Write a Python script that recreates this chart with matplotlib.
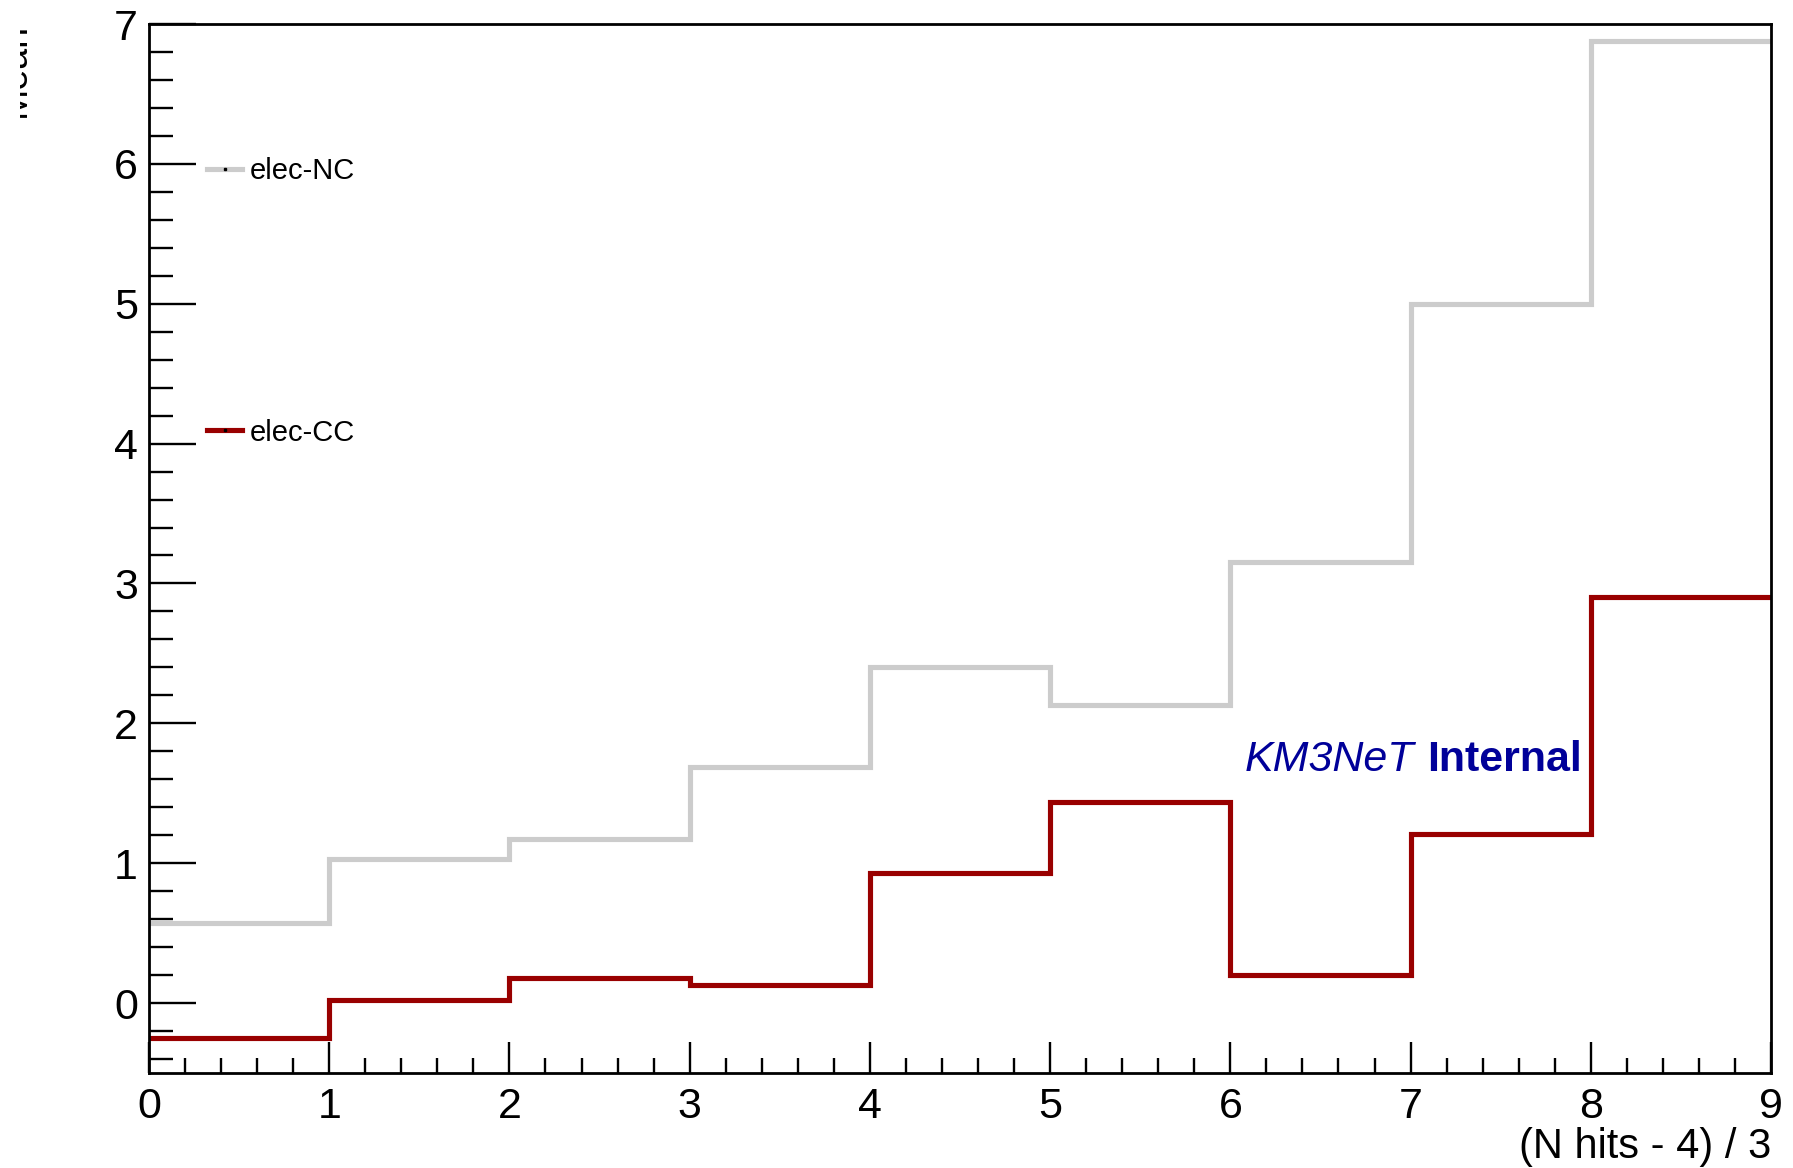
import numpy as np
import matplotlib
matplotlib.use("Agg")
import matplotlib.pyplot as plt
from matplotlib.lines import Line2D
from matplotlib.patches import Rectangle

plt.rcParams['font.family'] = ['Liberation Sans', 'DejaVu Sans']

# bin edges and per-bin means
bin_edges = np.arange(0, 10)
mean_nc = [0.57, 1.03, 1.17, 1.69, 2.40, 2.13, 3.15, 5.00, 6.88]
mean_cc = [-0.25, 0.02, 0.18, 0.13, 0.93, 1.44, 0.20, 1.21, 2.90]
labels = ["elec-NC", "elec-CC"]
colors = ["#cccccc", "#990000"]

W, H = 1793, 1168
fig = plt.figure(figsize=(W / 100, H / 100), dpi=100)
ax = fig.add_axes([149 / W, 1 - 1073 / H, (1771 - 149) / W, (1073 - 24) / H])

ax.stairs(mean_nc, bin_edges, baseline=None, color=colors[0], linewidth=3.7)
ax.stairs(mean_cc, bin_edges, baseline=None, color=colors[1], linewidth=3.7)

ax.set_xlim(0, 9)
ax.set_ylim(-0.5, 7)
ax.set_xticks(range(0, 10))
ax.set_xticks(np.arange(0, 9.01, 0.2), minor=True)
ax.set_yticks(range(0, 8))
ax.set_yticks(np.arange(-0.4, 7.01, 0.2), minor=True)

ax.tick_params(axis='both', which='both', direction='in', top=False, right=False, width=1.7)
ax.tick_params(axis='y', which='major', length=34, pad=8, labelsize=31)
ax.tick_params(axis='y', which='minor', length=17)
ax.tick_params(axis='x', which='major', length=22, pad=10, labelsize=31)
ax.tick_params(axis='x', which='minor', length=11)
for s in ax.spines.values():
    s.set_linewidth(2.0)

ax.set_xlabel("(N hits - 4) / 3", fontsize=30, loc='right', labelpad=0)

# y title, cut at the left edge as in the original
yt = fig.text(33 / W, 1 - 23 / H, "Mean", rotation=90, ha='right', va='top', fontsize=27)
yt.set_clip_path(Rectangle((20 / W, 0), 1, 1, transform=fig.transFigure))

handles = [Line2D([], [], color=c, linewidth=3.7, marker='s', markersize=1.5,
                  markerfacecolor='k', markeredgecolor='k') for c in colors]
ax.legend(handles, labels, loc='upper left', bbox_to_anchor=(0.036, 0.873),
          frameon=False, fontsize=21, labelspacing=8.0, handlelength=1.2,
          handletextpad=0.25, borderpad=0, borderaxespad=0)

t1 = ax.text(7.95, 1.66, "Internal", color="#000099", fontsize=31,
             fontweight='bold', ha='right', va='baseline')
ax.annotate("KM3NeT", xy=(0, 0), xycoords=t1, xytext=(-9, 0),
            textcoords='offset points', ha='right', va='bottom',
            color="#000099", fontsize=31, fontstyle='italic')

fig.savefig("out.png", dpi=100)
